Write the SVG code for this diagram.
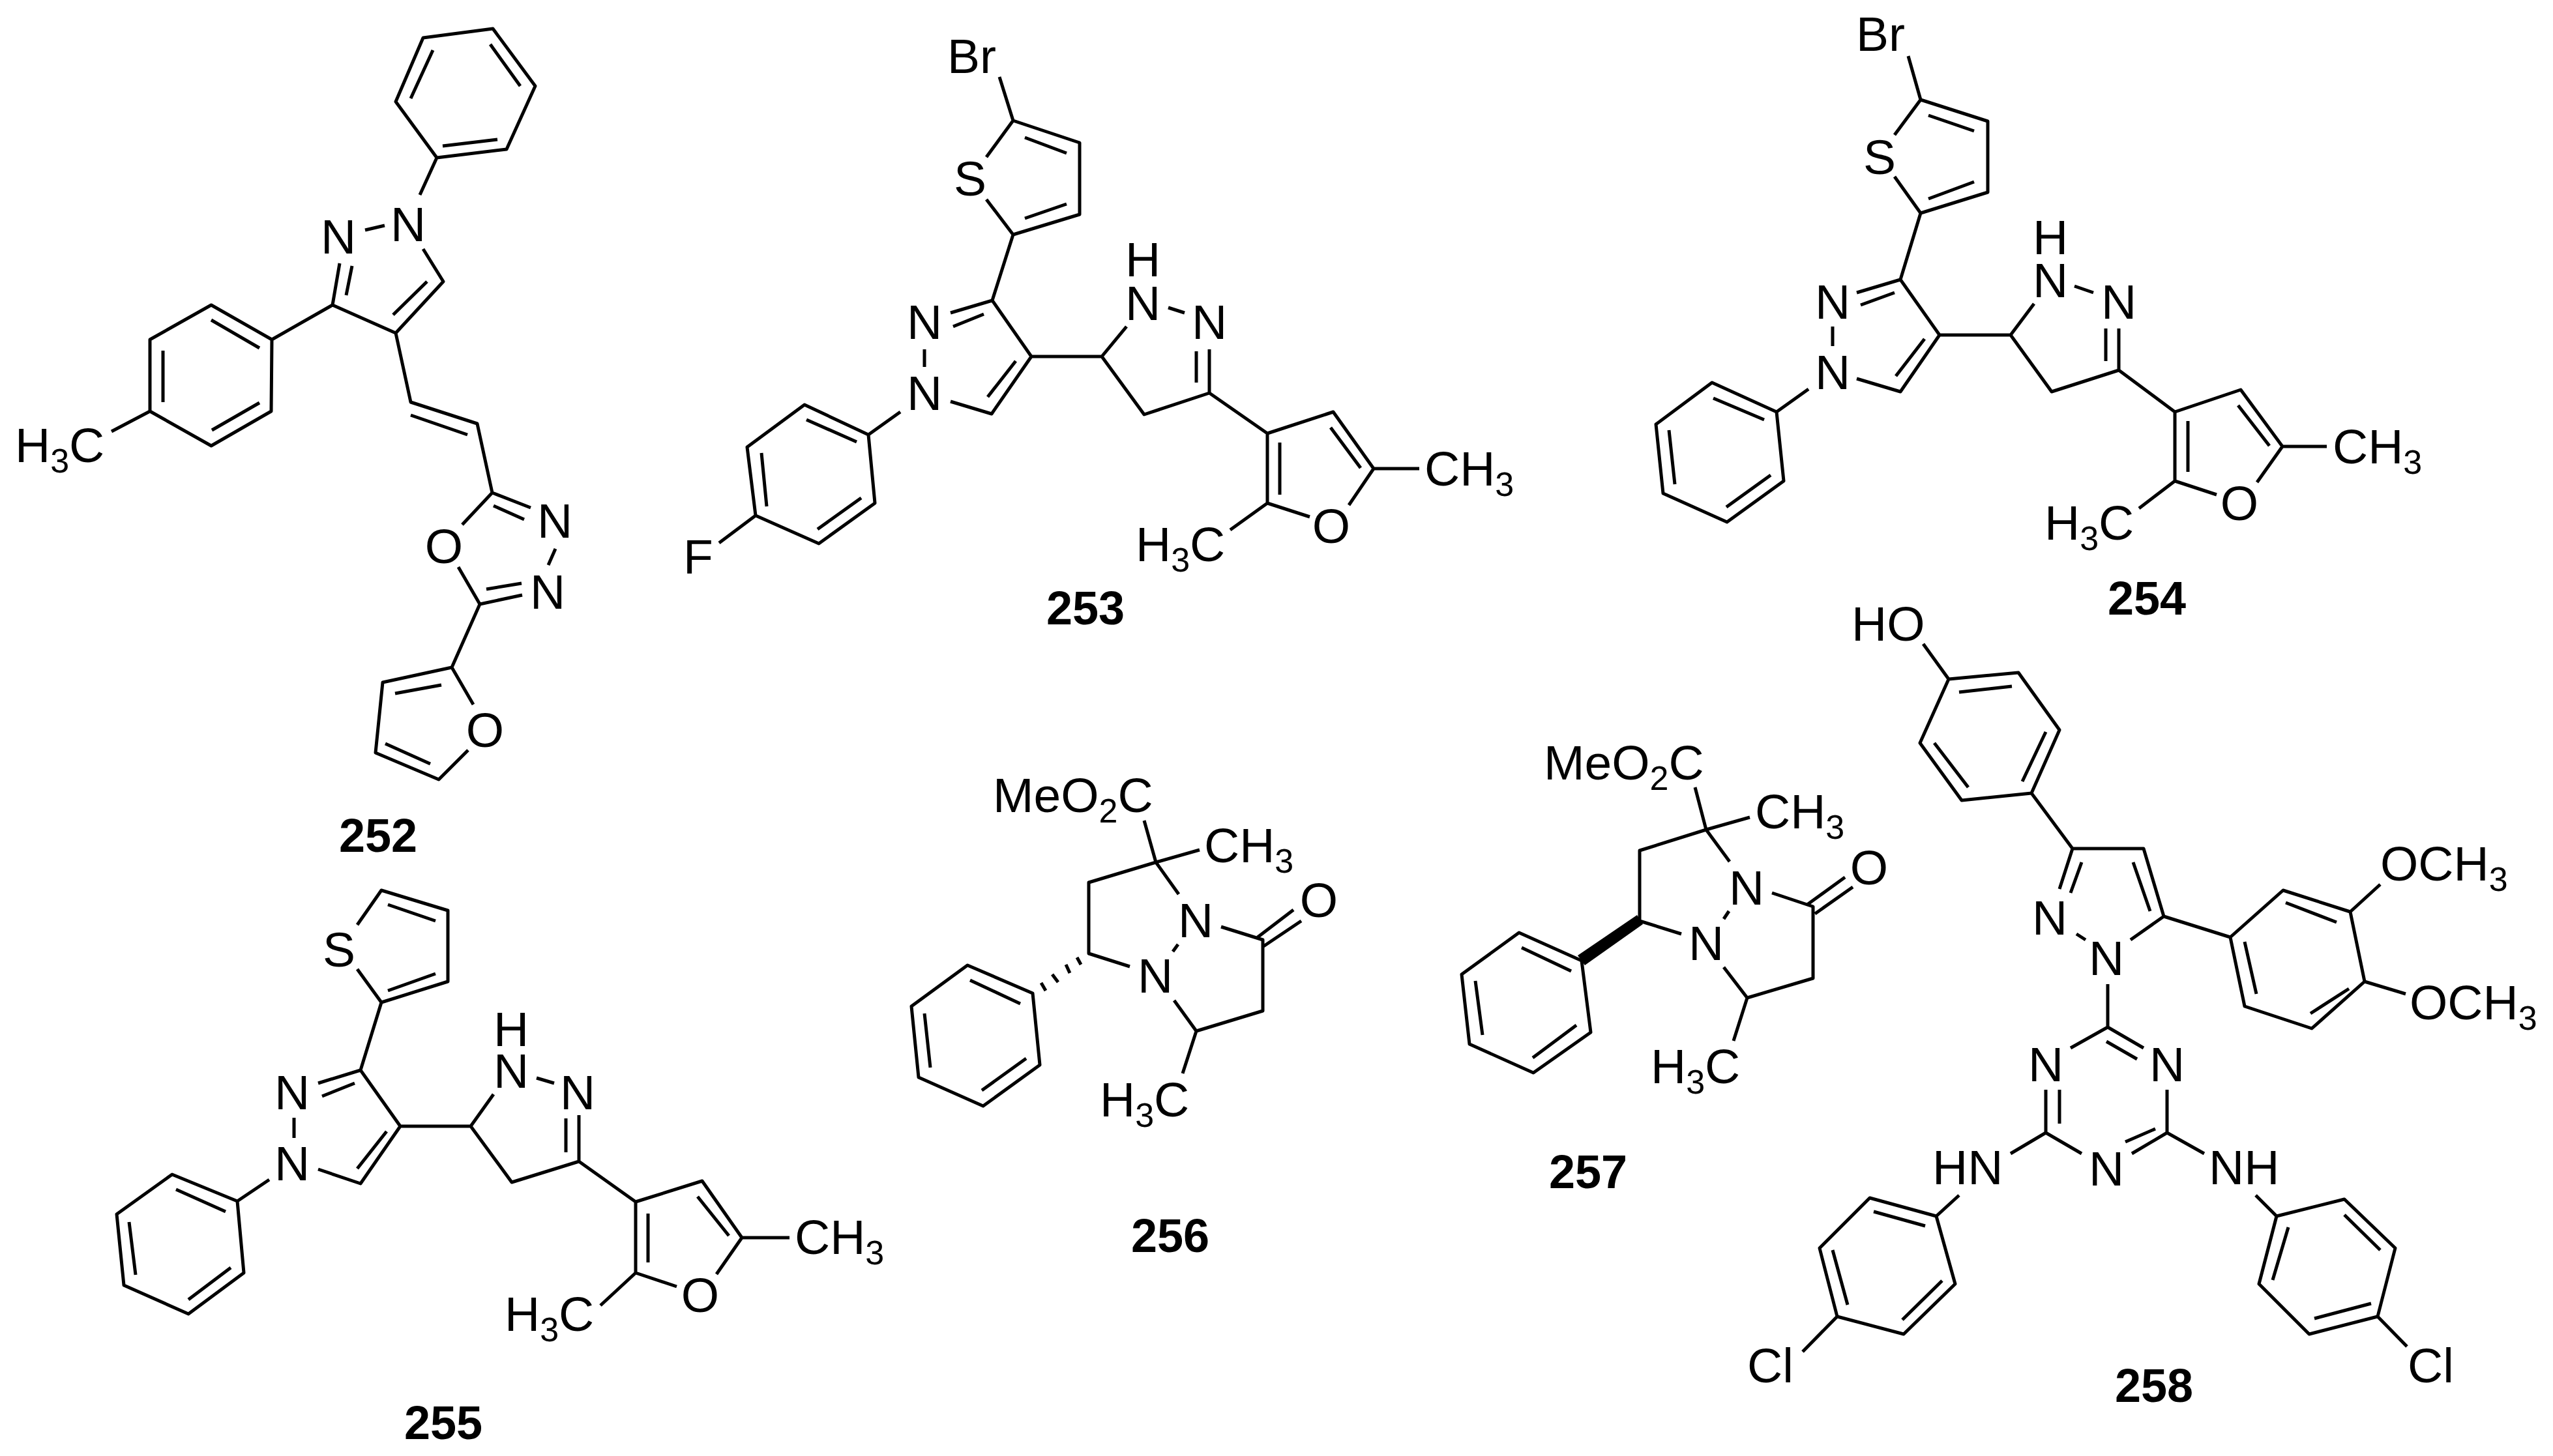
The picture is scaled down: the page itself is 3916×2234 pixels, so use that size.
<svg xmlns="http://www.w3.org/2000/svg" width="3916" height="2234" viewBox="0 0 3916 2234">
<style>
text{font-family:"Liberation Sans",Arial,sans-serif;font-size:75px;fill:#000}
.c{text-anchor:middle}
.b{font-weight:bold;font-size:72px;text-anchor:middle}
.s{font-size:52px}
.bond{fill:none;stroke:#000;stroke-width:5;stroke-linejoin:round;stroke-linecap:butt}
</style>
<rect width="3916" height="2234" fill="#fff"/>
<g id="connectors">
<path id="bonds-252" class="bond" d="M649 58L756 44L821 132L777 229L670 242L607 156Z M664 77L630 151 M752 68L798 132 M763 214L679 224 M670 242L644 299 M560 353L590 346 M649 382L680 432L607 511L510 468L521 404 M655 432L603 483 M531 453L540 408 M510 468L417 521 M417 521L324 468L230 521L230 631L324 684L416 631Z M324 491L398 534 M250 538L250 617 M325 660L398 618 M230 631L171 662 M607 511L630 617L732 650L755 756L814 779 M630 637L717 667 M757 776L804 797 M852 842L841 867 M801 913L736 927 M800 895L746 904 M755 756L709 805 M703 870L736 927L693 1024 M726 1081L693 1024L587 1047L576 1155L673 1196L718 1151 M606 1064L677 1051 M591 1141L660 1172"/>
<path id="bonds-253" class="bond" d="M1533 118L1554 185 M1513 241L1554 185L1656 219L1656 329L1554 360L1513 306 M1572 211L1636 235 M1572 335L1636 313 M1554 360L1522 461L1458 480 M1509 482L1462 501 M1418 536L1418 563 M1458 616L1521 635L1582 547L1522 461 M1515 609L1558 554 M1582 547L1690 547 M1690 547L1728 501 M1792 472L1817 480 M1855 536L1855 603L1755 636L1690 547 M1835 539L1835 587 M1855 603L1944 665L2045 632L2107 719L2069 775 M2041 656L2087 718 M2009 793L1944 772L1944 665 M1963 679L1963 759 M2107 719L2177 719 M1944 772L1887 813 M1381 632L1332 667L1234 621L1146 686L1159 791L1256 834L1342 772L1332 667 M1237 644L1314 678 M1168 695L1176 777 M1254 812L1321 764 M1159 791L1103 833"/>
<path id="bonds-254" class="bond" d="M2927 86L2946 153 M2906 207L2946 153L3049 186L3049 295L2946 327L2906 271 M2958 177L3028 201 M2958 305L3028 279 M2946 327L2915 429L2848 449 M2906 449L2854 468 M2811 501L2811 531 M2848 581L2915 601L2975 514L2915 429 M2908 577L2952 520 M2975 514L3084 514 M3084 514L3120 466 M3182 439L3211 449 M3250 504L3250 568L3147 601L3084 514 M3230 504L3230 554 M3250 568L3336 632L3437 598L3501 685L3462 740 M3433 622L3481 684 M3400 759L3336 738L3336 632 M3356 646L3356 724 M3501 685L3569 685 M3336 738L3281 780 M2774 597L2725 632L2626 587L2540 651L2551 757L2649 801L2736 738L2725 632 M2628 611L2706 644 M2560 660L2569 743 M2648 778L2716 729"/>
<path id="bonds-255" class="bond" d="M548 1419L585 1366L687 1397L687 1506L585 1538L548 1487 M595 1388L668 1413 M595 1520L668 1494 M585 1538L553 1642L488 1662 M544 1662L494 1682 M451 1715L451 1746 M488 1794L553 1816L614 1728L553 1642 M548 1793L593 1736 M614 1728L722 1728 M722 1728L757 1679 M823 1654L850 1662 M888 1711L888 1782L785 1814L722 1728 M868 1716L868 1768 M888 1782L975 1844L1077 1812L1138 1899L1099 1955 M1070 1836L1118 1896 M1038 1974L975 1953L975 1844 M994 1862L994 1937 M1138 1899L1211 1899 M975 1953L921 2003 M413 1810L364 1843L264 1802L179 1863L190 1972L289 2016L374 1953L364 1843 M270 1825L346 1859 M198 1875L208 1956 M289 1994L354 1945"/>
<path id="bonds-256" class="bond" d="M1755 1259L1773 1323L1840 1304 M1773 1323L1670 1354L1670 1463L1733 1483 M1773 1323L1808 1372 M1807 1449L1799 1460 M1873 1422L1937 1442L1937 1551L1835 1582L1801 1535 M1929 1438L1984 1396 M1938 1452L1996 1413 M1835 1582L1814 1647 M1584 1524L1484 1481L1398 1544L1409 1653L1508 1697L1595 1634Z M1488 1504L1565 1540 M1418 1555L1427 1638 M1506 1673L1574 1624 M1652 1469L1658 1480 M1635 1480L1641 1493 M1614 1495L1623 1507 M1597 1508L1604 1520"/>
<path id="bonds-257" class="bond" d="M2600 1208L2617 1273L2684 1254 M2617 1273L2515 1305L2515 1413L2579 1433 M2617 1273L2653 1322 M2652 1398L2644 1410 M2718 1370L2781 1391L2781 1501L2680 1531L2644 1484 M2772 1388L2830 1346 M2784 1402L2842 1361 M2680 1531L2659 1597 M2426 1474L2330 1431L2242 1495L2254 1602L2352 1646L2440 1584Z M2334 1454L2410 1490 M2263 1505L2274 1588 M2351 1623L2418 1573"/>
<path id="wedge-257" d="M2420 1466L2511 1404L2520 1418L2431 1481Z" fill="#000"/>
<path id="bonds-258" class="bond" d="M2950 988L2989 1042 M2989 1042L3096 1032L3159 1120L3116 1217L3009 1228L2945 1140Z M3005 1062L3086 1053 M3138 1123L3102 1199 M3019 1208L2967 1140 M3116 1217L3179 1302L3288 1302L3319 1406L3268 1442 M3272 1323L3298 1398 M3199 1442L3185 1433 M3159 1364L3179 1302 M3176 1370L3193 1323 M3319 1406L3421 1438 M3421 1438L3502 1366L3605 1399L3627 1506L3546 1578L3443 1544Z M3506 1385L3584 1415 M3603 1517L3544 1555 M3443 1445L3461 1525 M3605 1399L3651 1357 M3627 1506L3690 1525 M3233 1510L3233 1576L3176 1608 M3233 1576L3288 1608 M3231 1598L3278 1625 M3138 1672L3138 1738L3193 1770 M3159 1672L3159 1724 M3324 1672L3324 1738L3270 1770 M3306 1732L3260 1752 M3138 1738L3084 1770 M3324 1738L3381 1770 M3005 1834L2970 1866L2868 1838L2791 1915L2818 2020L2920 2047L2999 1970L2970 1866 M2953 1881L2874 1859 M2811 1918L2834 2002 M2918 2025L2979 1965 M2818 2020L2765 2074 M3460 1834L3492 1866L3596 1840L3674 1915L3647 2020L3542 2047L3465 1970L3492 1866 M3596 1864L3651 1918 M3637 2000L3550 2023 M3486 1964L3510 1883 M3647 2020L3692 2066"/>
</g>
<g id="mol-252">
<text class="c" x="626" y="370">N</text><text class="c" x="519" y="389">N</text>
<text class="c" x="851" y="825">N</text><text class="c" x="840" y="934">N</text>
<text class="c" x="681" y="864">O</text><text class="c" x="744" y="1146">O</text>
<text x="23" y="709">H<tspan class="s" dy="16">3</tspan><tspan dy="-16">C</tspan></text>
<text class="b" x="580" y="1307">252</text>
</g>
<g id="mol-253">
<text x="1453" y="112">Br</text><text class="c" x="1488" y="300">S</text>
<text class="c" x="1418" y="520">N</text><text class="c" x="1418" y="629">N</text>
<text class="c" x="1753" y="491">N</text><text class="c" x="1753" y="424">H</text><text class="c" x="1855" y="520">N</text>
<text class="c" x="2042" y="833">O</text><text x="1048" y="880">F</text>
<text x="2185" y="745">CH<tspan class="s" dy="16">3</tspan></text>
<text x="1742" y="861">H<tspan class="s" dy="16">3</tspan><tspan dy="-16">C</tspan></text>
<text class="b" x="1665" y="958">253</text>
</g>
<g id="mol-254">
<text x="2847" y="78">Br</text><text class="c" x="2883" y="267">S</text>
<text class="c" x="2811" y="489">N</text><text class="c" x="2811" y="597">N</text>
<text class="c" x="3145" y="456">N</text><text class="c" x="3145" y="390">H</text><text class="c" x="3250" y="489">N</text>
<text class="c" x="3435" y="798">O</text>
<text x="3578" y="711">CH<tspan class="s" dy="16">3</tspan></text>
<text x="3136" y="828">H<tspan class="s" dy="16">3</tspan><tspan dy="-16">C</tspan></text>
<text class="b" x="3293" y="943">254</text>
</g>
<g id="mol-255">
<text class="c" x="520" y="1483">S</text>
<text class="c" x="448" y="1702">N</text><text class="c" x="448" y="1811">N</text>
<text class="c" x="784" y="1669">N</text><text class="c" x="784" y="1605">H</text><text class="c" x="886" y="1702">N</text>
<text class="c" x="1074" y="2013">O</text>
<text x="1219" y="1924">CH<tspan class="s" dy="16">3</tspan></text>
<text x="774" y="2042">H<tspan class="s" dy="16">3</tspan><tspan dy="-16">C</tspan></text>
<text class="b" x="680" y="2208">255</text>
</g>
<g id="mol-256">
<text x="1523" y="1246">MeO<tspan class="s" dy="16">2</tspan><tspan dy="-16">C</tspan></text>
<text x="1847" y="1323">CH<tspan class="s" dy="16">3</tspan></text>
<text class="c" x="1834" y="1438">N</text><text class="c" x="1772" y="1523">N</text>
<text class="c" x="2023" y="1407">O</text>
<text x="1687" y="1713">H<tspan class="s" dy="16">3</tspan><tspan dy="-16">C</tspan></text>
<text class="b" x="1795" y="1921">256</text>
</g>
<g id="mol-257">
<text x="2368" y="1196">MeO<tspan class="s" dy="16">2</tspan><tspan dy="-16">C</tspan></text>
<text x="2692" y="1271">CH<tspan class="s" dy="16">3</tspan></text>
<text class="c" x="2679" y="1388">N</text><text class="c" x="2617" y="1473">N</text>
<text class="c" x="2867" y="1357">O</text>
<text x="2532" y="1662">H<tspan class="s" dy="16">3</tspan><tspan dy="-16">C</tspan></text>
<text class="b" x="2436" y="1823">257</text>
</g>
<g id="mol-258">
<text x="2840" y="983">HO</text>
<text class="c" x="3231" y="1496">N</text><text class="c" x="3144" y="1434">N</text>
<text x="3651" y="1351">OCH<tspan class="s" dy="16">3</tspan></text>
<text x="3696" y="1564">OCH<tspan class="s" dy="16">3</tspan></text>
<text class="c" x="3138" y="1659">N</text><text class="c" x="3324" y="1659">N</text><text class="c" x="3231" y="1819">N</text>
<text x="2964" y="1817">HN</text><text x="3388" y="1817">NH</text>
<text x="2680" y="2121">Cl</text><text x="3693" y="2121">Cl</text>
<text class="b" x="3304" y="2151">258</text>
</g>
</svg>
